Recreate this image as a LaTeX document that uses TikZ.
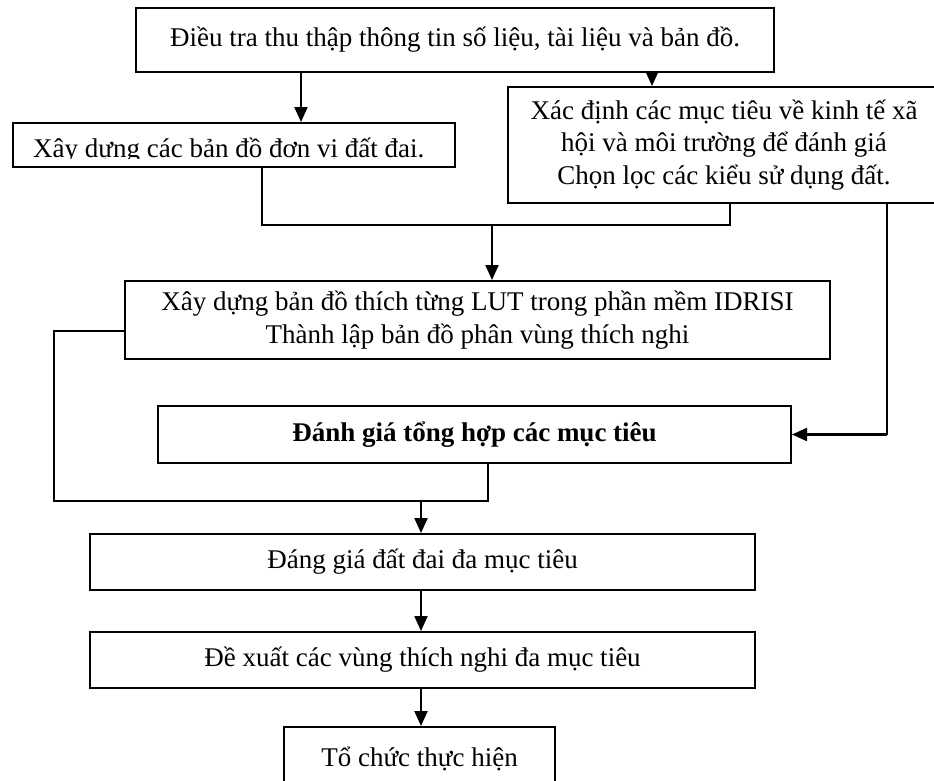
\documentclass[tikz,border=0pt]{standalone}
\usepackage{fontspec}
\setmainfont{Liberation Serif}
\usetikzlibrary{arrows.meta}
\begin{document}
\begin{tikzpicture}[x=1pt,y=-1pt,
  box/.style={draw,line width=2pt,rectangle,inner sep=0pt,align=center,
    font=\fontsize{27}{32.5}\selectfont},
  txt/.style={inner sep=0pt,font=\fontsize{27}{32.5}\selectfont},
  conn/.style={line width=1.6pt},
  arr/.style={line width=2.2pt,-{Triangle[width=13pt,length=15pt]}},
]
\useasboundingbox (0,0) rectangle (934,780);
\clip (0,0) rectangle (934,780);

% boxes
\node[box,minimum width=638pt,minimum height=64pt] (b1) at (455,40)
  {Điều tra thu thập thông tin số liệu, tài liệu và bản đồ.};
\node[box,minimum width=442pt,minimum height=44pt] (b2) at (234,145) {};
\begin{scope}
  \clip (13,123) rectangle (455,158.5);
  \node[txt,anchor=base west] (t2) at (33,157.5) {Xây dựng các bản đồ đơn vị đất đai.};
\end{scope}
\node[box,minimum width=432pt,minimum height=116pt] (b3) at (724,145)
  {Xác định các mục tiêu về kinh tế xã\\hội và môi trường để đánh giá\\Chọn lọc các kiểu sử dụng đất.};
\node[box,minimum width=705pt,minimum height=78pt] (b4) at (477.5,320)
  {Xây dựng bản đồ thích từng LUT trong phần mềm IDRISI\\Thành lập bản đồ phân vùng thích nghi};
\node[box,minimum width=633pt,minimum height=57pt] (b5) at (474.5,434.5)
  {\bfseries Đánh giá tổng hợp các mục tiêu};
\node[box,minimum width=665pt,minimum height=56pt] (b6) at (422.5,562)
  {Đáng giá đất đai đa mục tiêu};
\node[box,minimum width=665pt,minimum height=56pt] (b7) at (422.5,660)
  {Đề xuất các vùng thích nghi đa mục tiêu};
\node[box,minimum width=271pt,minimum height=63pt] (b8) at (419.5,758.5)
  {Tổ chức thực hiện};

% helper coordinates
\coordinate (xa) at (301,0);
\coordinate (xb) at (652,0);
\coordinate (j1) at (262,225);
\coordinate (j2) at (730,225);
\coordinate (j3) at (492,225);
\coordinate (r1) at (887,434.5);
\coordinate (l1) at (54,331);
\coordinate (l2) at (54,501);
\coordinate (l3) at (488,501);
\coordinate (d) at (421,501);

% connectors
\draw[arr] (xa |- b1.south) -- (xa |- b2.north);
\draw[arr] (xb |- b1.south) -- (xb |- b3.north);
\draw[conn] (j1 |- b2.south) -- (j1) -- (j2) -- (j2 |- b3.south);
\draw[arr] (j3) -- (j3 |- b4.north);
\draw[conn] (r1 |- b3.south) -- (r1);
\draw[arr] (r1) -- (b5.east);
\draw[conn] (l1 -| b4.west) -- (l1) -- (l2) -- (l3) -- (l3 |- b5.south);
\draw[arr] (d) -- (d |- b6.north);
\draw[arr] (d |- b6.south) -- (d |- b7.north);
\draw[arr] (d |- b7.south) -- (d |- b8.north);
\end{tikzpicture}
\end{document}
